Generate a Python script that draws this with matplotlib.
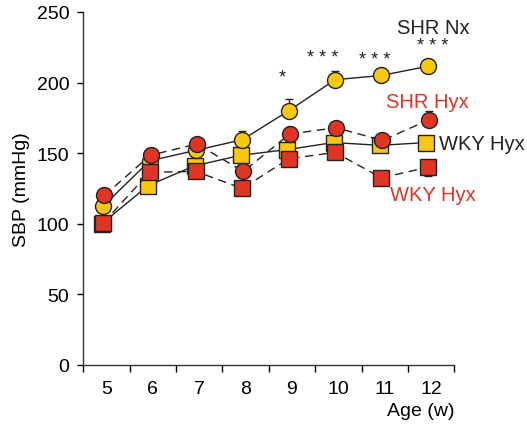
import matplotlib
matplotlib.use("Agg")
import matplotlib.pyplot as plt
import numpy as np

plt.rcParams["font.family"] = ["Liberation Sans", "DejaVu Sans"]

weeks = [5, 6, 7, 8, 9, 10, 11, 12]

shr_nx = [112.5, 144.5, 152, 159.5, 180, 202, 205, 211.5]
shr_nx_err = [0, 0, 0, 6.5, 8, 6, 5, 5]

wky_nx = [100, 127, 141, 148.5, 152.5, 157.5, 155.5, 157.5]

shr_hyx = [120, 148.5, 156.5, 137, 163.5, 168, 159, 173.5]
shr_hyx_err = [0, 0, 0, 0, 5, 0, 0, 6.5]

wky_hyx = [100.5, 136.5, 137, 125, 146, 150.5, 132.5, 140]
wky_hyx_err = [0, 0, 0, 0, 0, 0, 0, 6.5]

stars = ["*", "* * *", "* * *", "* * *"]
star_x = [8.78, 9.66, 10.79, 12.03]
star_y = [204, 218, 216, 226]

YELLOW = "#F9C80E"
RED = "#E03424"
EDGE = "#222222"

fig = plt.figure(figsize=(5.27, 4.31), dpi=100)
ax = fig.add_axes([0.158, 0.151, 0.704, 0.819])

x = np.array(weeks, dtype=float)
zeros = np.zeros(len(weeks))


def series(xs, ys, err_up, err_down, marker, color, ls, z):
    ax.errorbar(xs, ys, yerr=[err_down, err_up], fmt="none", ecolor="#222222",
                elinewidth=1, capsize=3.2, capthick=1, zorder=z)
    ax.plot(xs, ys, ls=ls, color="#222222", lw=1,
            dashes=(6, 4) if ls == "--" else (None, None), zorder=z)
    ax.plot(xs, ys, ls="none", marker=marker, ms=11.5 if marker == "o" else 11,
            mfc=color, mec=EDGE, mew=1, zorder=z + 0.5)


series(x - 0.1, wky_nx, zeros, zeros, "s", YELLOW, "-", 2)
series(x - 0.07, shr_nx, shr_nx_err, zeros, "o", YELLOW, "-", 3)
series(x - 0.07, wky_hyx, zeros, wky_hyx_err, "s", RED, "--", 4)
series(x - 0.05, shr_hyx, shr_hyx_err, zeros, "o", RED, "--", 5)

for s, sx, sy in zip(stars, star_x, star_y):
    ax.text(sx, sy, s, ha="center", va="center", fontsize=13, color="#222222")

ax.text(12.04, 239, "SHR Nx", ha="center", va="center", fontsize=14.5, color="#222222")
ax.text(11.92, 186.5, "SHR Hyx", ha="center", va="center", fontsize=14.5, color=RED)
ax.text(12.17, 157, "WKY Hyx", ha="left", va="center", fontsize=14.5, color="#222222",
        clip_on=False)
ax.text(12.04, 121, "WKY Hyx", ha="center", va="center", fontsize=14.5, color=RED)

ax.set_xlim(4.5, 12.5)
ax.set_ylim(0, 250)
ax.set_yticks([0, 50, 100, 150, 200, 250])
ax.set_xticks(np.arange(4.5, 12.6, 1))
ax.set_xticklabels([])
ax.set_xticks(weeks, minor=True)
ax.set_xticklabels([str(w) for w in weeks], minor=True, fontsize=14)
ax.tick_params(axis="x", which="major", length=5, width=1, direction="out")
ax.tick_params(axis="x", which="minor", length=0, pad=11)
ax.tick_params(axis="y", length=4, width=1, pad=6, labelsize=14)

for side in ["top", "right"]:
    ax.spines[side].set_visible(False)
for side in ["left", "bottom"]:
    ax.spines[side].set_linewidth(1)
    ax.spines[side].set_color("#333333")

ax.set_ylabel("SBP (mmHg)", fontsize=14, labelpad=5)
fig.text(0.862, 0.025, "Age (w)", ha="right", va="bottom", fontsize=14)

fig.savefig("out.png", dpi=100)
